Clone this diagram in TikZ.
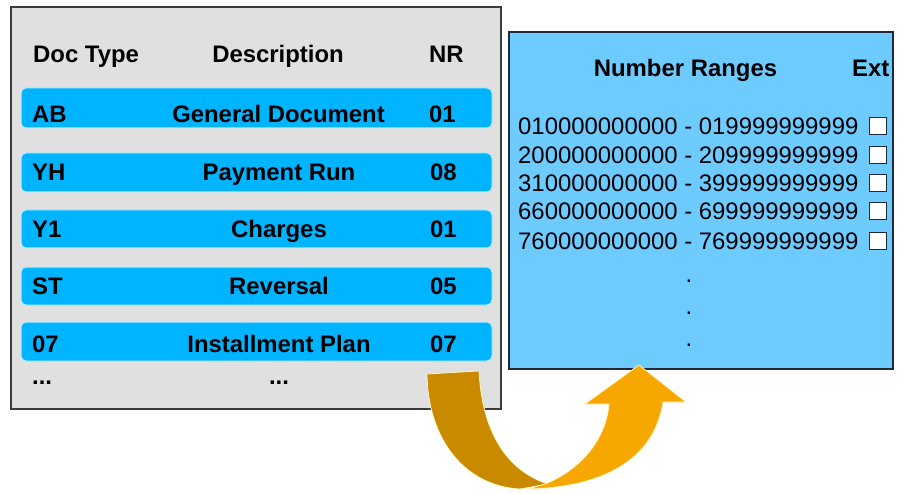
\documentclass[tikz,border=0pt]{standalone}
\usepackage{fontspec}
\setmainfont{Liberation Sans}
\definecolor{panelgray}{HTML}{E0E0E0}
\definecolor{panelborder}{HTML}{3C3C3C}
\definecolor{rowblue}{HTML}{00B4FF}
\definecolor{rowedge}{HTML}{B8ECFF}
\definecolor{rangeblue}{HTML}{6ECBFF}
\definecolor{rangeborder}{HTML}{1E2A38}
\definecolor{arrowdark}{HTML}{C98A00}
\definecolor{arrowlight}{HTML}{F7A800}
\definecolor{arrowedge}{HTML}{FFF4C0}
\tikzset{
  bt/.style={inner sep=0pt, font=\fontsize{23.9}{28}\selectfont\bfseries},
  rt/.style={inner sep=0pt, font=\fontsize{23.9}{28}\selectfont},
  rowbox/.style={fill=rowblue, draw=rowedge, line width=1pt, rounded corners=5pt},
  chk/.style={fill=white, draw=rangeborder, line width=1pt}
}
\begin{document}
\begin{tikzpicture}[x=1pt,y=-1pt]
\useasboundingbox (0,0) rectangle (904,494);
% left panel
\draw[fill=panelgray, draw=panelborder, line width=1.6pt] (11,7) rectangle (501,409);
\node[bt, anchor=base west] (hdoc) at (33,63) {Doc Type};
\node[bt, anchor=base] (hdesc) at (278,63) {Description};
\node[bt, anchor=base west] (hnr) at (429,63) {NR};
% rows
\path[rowbox] (21,88) rectangle (492,128);
\path[rowbox] (21,153) rectangle (492,192);
\path[rowbox] (21,210) rectangle (492,248);
\path[rowbox] (21,267) rectangle (492,305);
\path[rowbox] (21,322) rectangle (492,361);
\node[bt, anchor=base west] (t1) at (32,122.5) {AB};
\node[bt, anchor=base] (d1) at (278.5,122.5) {General Document};
\node[bt, anchor=base west] (n1) at (429,122.5) {01};
\node[bt, anchor=base west] (t2) at (32,181) {YH};
\node[bt, anchor=base] (d2) at (279,181) {Payment Run};
\node[bt, anchor=base west] (n2) at (430,181) {08};
\node[bt, anchor=base west] (t3) at (32,237.5) {Y1};
\node[bt, anchor=base] (d3) at (279,237.5) {Charges};
\node[bt, anchor=base west] (n3) at (430,237.5) {01};
\node[bt, anchor=base west] (t4) at (32,294.5) {ST};
\node[bt, anchor=base] (d4) at (279,294.5) {Reversal};
\node[bt, anchor=base west] (n4) at (430,294.5) {05};
\node[bt, anchor=base west] (t5) at (32,352) {07};
\node[bt, anchor=base] (d5) at (279,352) {Installment\ Plan};
\node[bt, anchor=base west] (n5) at (430,352) {07};
\node[bt, anchor=base west] (e1) at (32,384) {...};
\node[bt, anchor=base] (e2) at (279,384) {...};
% right panel
\draw[fill=rangeblue, draw=rangeborder, line width=1.4pt] (509,32) rectangle (893,369);
\node[bt, anchor=base] (hnum) at (685.5,77) {Number Ranges};
\node[bt, anchor=base west] (hext) at (852,77) {Ext};
\node[rt, anchor=base west] (r1) at (518,135) {010000000000 - 019999999999};
\node[rt, anchor=base west] (r2) at (518,163.5) {200000000000 - 209999999999};
\node[rt, anchor=base west] (r3) at (518,192) {310000000000 - 399999999999};
\node[rt, anchor=base west] (r4) at (518,220) {660000000000 - 699999999999};
\node[rt, anchor=base west] (r5) at (518,250) {760000000000 - 769999999999};
\draw[chk] (869,118) rectangle (886,135);
\draw[chk] (869,146.5) rectangle (886,163.5);
\draw[chk] (869,175) rectangle (886,192);
\draw[chk] (869,203) rectangle (886,220);
\draw[chk] (869,233) rectangle (886,250);
\node[rt, anchor=base] (p1) at (689,282) {.};
\node[rt, anchor=base] (p2) at (689,314) {.};
\node[rt, anchor=base] (p3) at (689,346) {.};
% curved arrow
\fill[arrowdark, draw=arrowedge, line width=0.8pt]
  (427,374) -- (479,371)
  .. controls (482,430) and (505,470) .. (548,484)
  -- (520,489)
  .. controls (465,486) and (428,440) .. (427,374) -- cycle;
\fill[arrowlight, draw=arrowedge, line width=0.8pt]
  (545,484) .. controls (580,470) and (606,440) .. (609,404)
  -- (585,404) -- (639,365) -- (686,402) -- (663,402)
  .. controls (655,455) and (610,487) .. (528,489) -- cycle;
\end{tikzpicture}
\end{document}
